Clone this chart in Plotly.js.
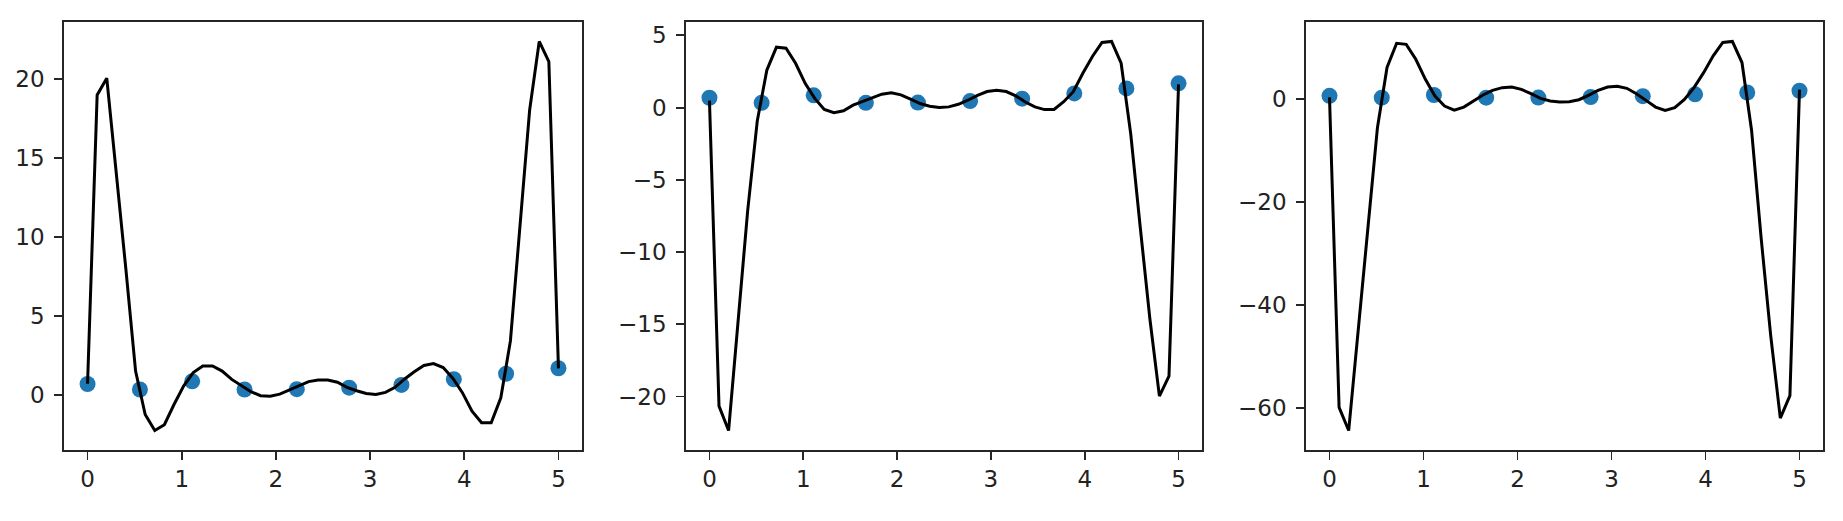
<!DOCTYPE html>
<html>
<head>
<meta charset="utf-8">
<script src="https://cdn.plot.ly/plotly-3.0.1.min.js"></script>
<style>html,body{margin:0;padding:0;background:#fff;}#chart{width:1843px;height:521px;}</style>
</head>
<body>
<div id="chart"></div>
<script>
// sample grid for the black curves (50 points from 0 to 5)
const xGrid = [0.000,0.102,0.204,0.306,0.408,0.510,0.612,0.714,0.816,0.918,
  1.020,1.122,1.224,1.327,1.429,1.531,1.633,1.735,1.837,1.939,
  2.041,2.143,2.245,2.347,2.449,2.551,2.653,2.755,2.857,2.959,
  3.061,3.163,3.265,3.367,3.469,3.571,3.673,3.776,3.878,3.980,
  4.082,4.184,4.286,4.388,4.490,4.592,4.694,4.796,4.898,5.000];

// blue sample points
const xDots = [0, 0.556, 1.111, 1.667, 2.222, 2.778, 3.333, 3.889, 4.444, 5];
const yDots = [0.68, 0.33, 0.85, 0.33, 0.35, 0.45, 0.62, 0.98, 1.33, 1.68];

// curve values, panel 1
const curve1 = [0.70,19.0,20.06,14.2,7.9,1.5,-1.25,-2.27,-1.9,-0.62,
  0.55,1.4,1.82,1.82,1.5,0.97,0.57,0.19,-0.06,-0.1,
  0.04,0.3,0.57,0.83,0.93,0.93,0.79,0.47,0.25,0.08,
  0.02,0.15,0.47,1.0,1.46,1.85,1.97,1.72,1.05,0.13,
  -1.04,-1.78,-1.78,-0.19,3.41,10.83,18.04,22.39,21.12,1.67];

// curve values, panel 2
const curve2 = [0.48,-20.67,-22.36,-15.0,-7.1,-0.9,2.6,4.18,4.11,3.07,
  1.68,0.64,-0.13,-0.35,-0.22,0.17,0.42,0.7,0.93,1.02,
  0.88,0.58,0.28,0.09,0.0,0.05,0.23,0.51,0.84,1.11,
  1.2,1.11,0.81,0.39,0.05,-0.14,-0.13,0.41,1.1,2.38,
  3.54,4.51,4.58,3.07,-1.8,-8.3,-14.6,-19.98,-18.59,1.61];

// curve values, panel 3
const curve3 = [0.39,-59.9,-64.4,-44.6,-25.0,-5.5,6.2,10.9,10.7,7.8,
  3.9,0.65,-1.3,-2.1,-1.5,-0.33,0.85,1.76,2.28,2.4,
  1.95,1.1,0.2,-0.33,-0.52,-0.46,-0.07,0.78,1.76,2.4,
  2.54,2.15,1.1,-0.2,-1.5,-2.15,-1.63,0.0,2.28,5.2,
  8.46,11.06,11.26,7.16,-6.0,-27.0,-46.0,-62.0,-57.6,1.9];

const xTicks = [0,1,2,3,4,5];
const yTicks1 = [0,5,10,15,20];
const yTicks2 = [-20,-15,-10,-5,0,5];
const yTicks3 = [-60,-40,-20,0];

const W = 1843, H = 521;
function padRange(arrs){
  let lo = Infinity, hi = -Infinity;
  arrs.forEach(a => a.forEach(v => { if (v < lo) lo = v; if (v > hi) hi = v; }));
  const p = (hi - lo) * 0.05;
  return [lo - p, hi + p];
}
const xr = padRange([xGrid, xDots]);

const curves = [curve1, curve2, curve3];
const yTickSets = [yTicks1, yTicks2, yTicks3];
const xDom = [[64, 582], [686, 1202], [1306, 1823]];
const yDom = [1 - 450 / H, 1 - 22 / H];

const tickFont = {family: 'DejaVu Sans', size: 23, color: '#222222'};
const traces = [];
const layout = {
  width: W, height: H,
  margin: {l: 0, r: 0, t: 0, b: 0},
  paper_bgcolor: '#ffffff', plot_bgcolor: '#ffffff',
  showlegend: false
};

curves.forEach((c, k) => {
  const sfx = k === 0 ? '' : String(k + 1);
  traces.push({x: xDots, y: yDots, type: 'scatter', mode: 'markers',
    marker: {color: '#1f77b4', size: 16}, xaxis: 'x' + sfx, yaxis: 'y' + sfx, hoverinfo: 'skip'});
  traces.push({x: xGrid, y: c, type: 'scatter', mode: 'lines',
    line: {color: '#000000', width: 3}, xaxis: 'x' + sfx, yaxis: 'y' + sfx, hoverinfo: 'skip'});
  const common = {showline: true, mirror: true, linecolor: '#262626', linewidth: 1.8,
    ticks: 'outside', ticklen: 8, tickwidth: 1.8, tickcolor: '#262626',
    showgrid: false, zeroline: false, tickfont: tickFont, fixedrange: true};
  layout['xaxis' + sfx] = Object.assign({}, common, {
    domain: [xDom[k][0] / W, xDom[k][1] / W], anchor: 'y' + sfx,
    range: xr, tickmode: 'array', tickvals: xTicks, ticktext: xTicks.map(String)
  });
  layout['yaxis' + sfx] = Object.assign({}, common, {
    domain: yDom, anchor: 'x' + sfx,
    range: padRange([c, yDots]), tickmode: 'array',
    tickvals: yTickSets[k], ticktext: yTickSets[k].map(v => v < 0 ? '\u2212' + Math.abs(v) : String(v)),
    ticklabelstandoff: 5
  });
});

Plotly.newPlot('chart', traces, layout, {displayModeBar: false, staticPlot: true});
</script>
</body>
</html>
